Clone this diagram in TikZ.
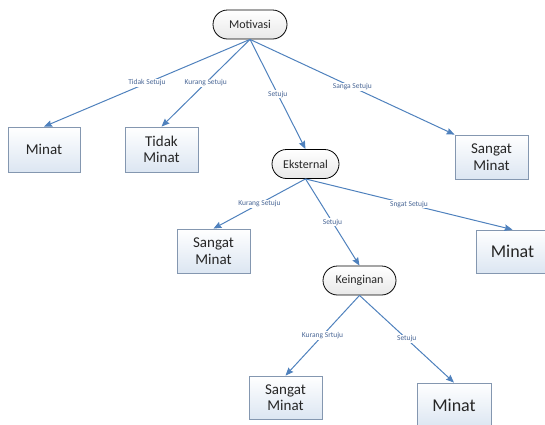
\documentclass[tikz,border=0pt]{standalone}
\usepackage{fontspec}
\setmainfont{Carlito}
\usetikzlibrary{arrows.meta}
\definecolor{edgeblue}{HTML}{4F81BD}
\definecolor{boxline}{HTML}{8497B0}
\definecolor{boxfill}{HTML}{DCE6F2}
\definecolor{labeltext}{HTML}{4A6796}
\tikzset{
	choice/.style={draw=black, line width=0.8pt, rounded corners=14.5pt, top color=white, bottom color=black!9, minimum height=29pt, inner sep=2pt, text=black!85, font=\fontsize{12}{14}\selectfont},
	result/.style={draw=boxline, line width=0.8pt, top color=white, bottom color=boxfill, minimum width=73pt, minimum height=44pt, inner sep=2pt, align=center, text=black!85, font=\fontsize{15}{16.5}\selectfont},
	bigresult/.style={result, font=\fontsize{18}{20}\selectfont},
	answer/.style={fill=white, inner sep=1pt, text=labeltext, font=\fontsize{7.5}{8}\selectfont},
	edge/.style={->, >={Stealth[length=8pt, width=6.5pt, inset=1pt]}, draw=edgeblue, line width=1pt}
}
\begin{document}
\begin{tikzpicture}[x=1pt, y=-1pt]
	\clip (0,0) rectangle (545,424);
	% Questions
	\node[choice, minimum width=74pt] (motivasi) at (250,24.5) {Motivasi};
	\node[choice, minimum width=67pt] (eksternal) at (305.5,164) {Eksternal};
	\node[choice, minimum width=73pt] (keinginan) at (359.5,280.5) {Keinginan};
	% Results
	\node[result, minimum width=72pt, minimum height=45pt] (minatA) at (44,149.5) {Minat};
	\node[result, minimum height=45pt] (tidakA) at (161.5,149.5) {Tidak\\Minat};
	\node[result] (sangatA) at (491.5,157) {Sangat\\Minat};
	\node[result] (sangatB) at (213.5,251) {Sangat\\Minat};
	\node[bigresult, minimum height=43pt] (minatB) at (512.5,251.5) {Minat};
	\node[result, minimum height=43pt] (sangatC) at (285.5,397.5) {Sangat\\Minat};
	\node[bigresult, minimum width=74pt] (minatC) at (454,405) {Minat};
	% Answers
	\foreach \from/\to/\txt in {
			motivasi/minatA.north/Tidak Setuju,
			motivasi/tidakA.north/Kurang Setuju,
			motivasi/eksternal.north/Setuju,
			motivasi/sangatA.north west/Sanga Setuju,
			eksternal/sangatB.north/Kurang Setuju,
			eksternal/keinginan.north/Setuju,
			eksternal/minatB.north/Sngat Setuju,
			keinginan/sangatC.north/Kurang Srtuju,
			keinginan/minatC.north/Setuju}
		\draw[edge] (\from.south) -- (\to) node[answer, pos=0.5]{\txt};
\end{tikzpicture}
\end{document}
